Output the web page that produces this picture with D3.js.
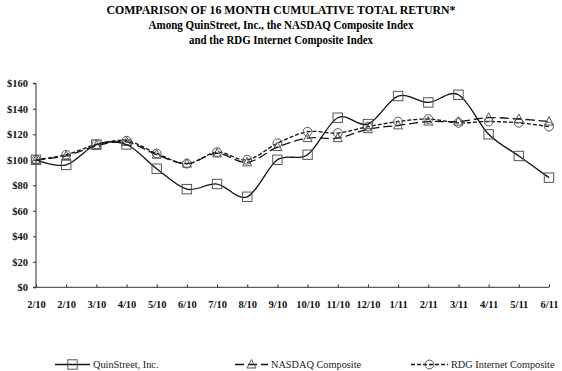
<!DOCTYPE html>
<html><head><meta charset="utf-8">
<script src="https://cdn.jsdelivr.net/npm/d3@7"></script>
<style>body{margin:0;background:#fff}svg{display:block}</style>
</head><body><svg id="c" width="562" height="371"></svg>
<script>
const categories = ["2/10","2/10","3/10","4/10","5/10","6/10","7/10","8/10","9/10","10/10","11/10","12/10","1/11","2/11","3/11","4/11","5/11","6/11"];
const quinstreet = [100, 96, 112, 112, 93, 77, 81, 71, 100, 104, 133, 128, 150, 145, 151, 120, 103, 86];
const nasdaq = [100, 103, 111, 114, 104, 97, 105, 98, 110, 117, 117, 124, 127, 130, 130, 133, 132, 130];
const rdg = [100, 104, 112, 115, 105, 97, 106, 100, 113, 122, 121, 126, 130, 132, 129, 130, 129, 126];
const yTicks = [0, 20, 40, 60, 80, 100, 120, 140, 160];
const seriesNames = ["QuinStreet, Inc.", "NASDAQ Composite", "RDG Internet Composite"];

const svg = d3.select("#c");
const serif = "'Liberation Serif','Times New Roman',serif";
const mLeft = 36, mRight = 549, mTop = 83.3, mBottom = 287.3;
const x = d3.scalePoint().domain(d3.range(categories.length)).range([mLeft, mRight]);
const y = d3.scaleLinear().domain([0, 160]).range([mBottom, mTop]);

// titles
const titles = [
  {t: "COMPARISON OF 16 MONTH CUMULATIVE TOTAL RETURN*", y: 14, s: 13.5, w: 349},
  {t: "Among QuinStreet, Inc., the NASDAQ Composite Index", y: 29, s: 12, w: 265},
  {t: "and the RDG Internet Composite Index", y: 44, s: 12, w: 184}
];
titles.forEach(d => {
  svg.append("text").attr("x", 281).attr("y", d.y).attr("text-anchor", "middle")
    .attr("font-family", serif).attr("font-weight", "bold").attr("font-size", d.s)
    .attr("textLength", d.w).attr("lengthAdjust", "spacingAndGlyphs").text(d.t);
});

// y axis
const yAxis = d3.axisLeft(y).tickValues(yTicks).tickSize(3).tickFormat(d => "$" + d);
const gy = svg.append("g").attr("transform", `translate(${mLeft},0)`).call(yAxis);
gy.select(".domain").attr("d", `M-3,${mTop}H0V${mBottom}H-3`).attr("stroke", "#333");
gy.selectAll(".tick line").attr("stroke", "#333");
gy.selectAll("text").attr("font-family", serif).attr("font-weight", "bold").attr("font-size", 10.5).attr("fill", "#111").attr("x", -8);

// x axis
const xAxis = d3.axisBottom(x).tickSize(-3).tickFormat(i => categories[i]);
const gx = svg.append("g").attr("transform", `translate(0,${mBottom})`).call(xAxis);
gx.select(".domain").attr("d", `M${mLeft},0H${mRight}`).attr("stroke", "#333");
gx.selectAll(".tick line").attr("stroke", "#333");
gx.selectAll("text").attr("font-family", serif).attr("font-weight", "bold").attr("font-size", 10.5).attr("fill", "#111").attr("y", 13).attr("dy", "0.71em");

const line = d3.line().x((d, i) => x(i)).y(d => y(d)).curve(d3.curveCardinal.tension(0));
const styles = [
  {data: quinstreet, dash: null, marker: "square"},
  {data: nasdaq, dash: "9,4", marker: "triangle"},
  {data: rdg, dash: "4,2", marker: "circle"}
];

function drawMarker(g, type, cx, cy) {
  if (type === "square") {
    g.append("rect").attr("x", cx - 4.7).attr("y", cy - 4.7).attr("width", 9.4).attr("height", 9.4)
      .attr("fill", "none").attr("stroke", "#555").attr("stroke-width", 1);
  } else if (type === "triangle") {
    g.append("path").attr("d", `M${cx},${cy - 5}L${cx + 4.5},${cy + 3.5}L${cx - 4.5},${cy + 3.5}Z`)
      .attr("fill", "none").attr("stroke", "#555").attr("stroke-width", 1);
  } else {
    g.append("circle").attr("cx", cx).attr("cy", cy).attr("r", 4.4)
      .attr("fill", "none").attr("stroke", "#555").attr("stroke-width", 1);
  }
}

// draw in reverse so QuinStreet on top
[2, 1, 0].forEach(k => {
  const s = styles[k];
  svg.append("path").datum(s.data).attr("d", line).attr("fill", "none")
    .attr("stroke", "#111").attr("stroke-width", 1.3).attr("stroke-dasharray", s.dash);
  const g = svg.append("g");
  s.data.forEach((v, i) => drawMarker(g, s.marker, x(i), y(v)));
});

// legend
const legendPos = [{x0: 55, x1: 90, tx: 93}, {x0: 235, x1: 268, tx: 271}, {x0: 411, x1: 448, tx: 451}];
const ly = 364.5;
legendPos.forEach((p, k) => {
  const s = styles[k];
  svg.append("line").attr("x1", p.x0).attr("x2", p.x1).attr("y1", ly).attr("y2", ly)
    .attr("stroke", "#111").attr("stroke-width", 1.3).attr("stroke-dasharray", s.dash);
  const g = svg.append("g");
  drawMarker(g, s.marker, (p.x0 + p.x1) / 2, ly);
  svg.append("text").attr("x", p.tx).attr("y", ly + 3.6).attr("font-family", serif)
    .attr("font-size", 10.3).attr("fill", "#222").text(seriesNames[k]);
});
</script></body></html>
